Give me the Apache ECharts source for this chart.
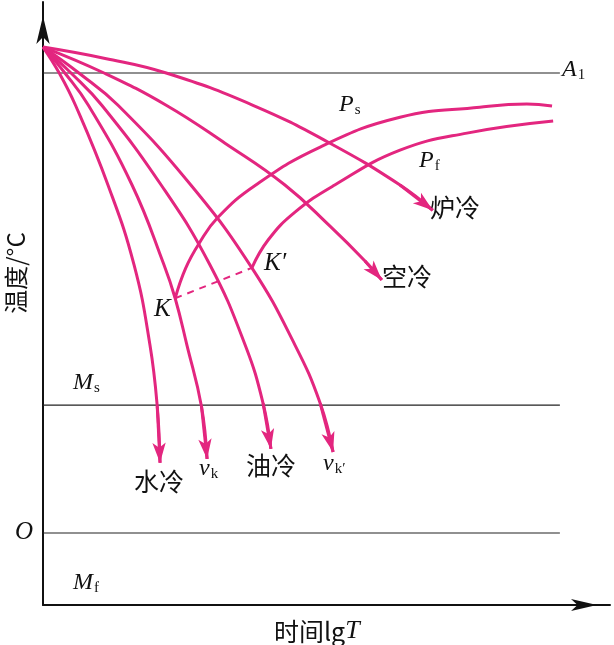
<!DOCTYPE html>
<html>
<head>
<meta charset="utf-8">
<script src="https://cdn.jsdelivr.net/npm/echarts@6/dist/echarts.min.js"></script>
<style>
html,body{margin:0;padding:0;background:#fff;}
#chart{width:614px;height:645px;}
</style>
</head>
<body>
<div id="chart"></div>
<script>
// ---- data (time in relative lg units, temperature in °C) ----
const refLineNames = ['A1', 'Ms', 'O'];
const refLineTemps = [727, 202, 0];
const refLineEnd = 92.3;

const waterCool = [[0,768],[2.9,727],[5.8,676],[11.6,550],[16.25,424],[19.1,297],[20.4,200],[20.9,111]];
const vkCurve   = [[0,768],[3.9,727],[8.1,676],[15.9,550],[21.6,424],[23.6,371],[25.7,297],[28.3,200],[29.3,117]];
const oilCool   = [[0,768],[5.0,727],[10.5,676],[21.1,550],[29.8,424],[36.1,297],[39.3,205],[40.7,133]];
const vk2Curve  = [[0,768],[6.4,727],[13.4,676],[26.4,550],[37.3,419],[45.0,297],[49.5,205],[51.8,128]];
const airCool   = [[0,768],[10.9,727],[22.0,676],[32.5,616],[43.2,550],[51.25,485],[57.5,430],[60.5,400]];
const furnCool  = [[0,768],[11.1,750],[22.0,727],[37.5,676],[51.25,616],[63.75,550],[69.6,510]];
const psCurve   = [[23.6,371],[25.5,419],[27.9,458],[31.25,499],[38.0,550],[49.5,610],[63.75,657],[78.0,673],[86.4,678],[90.9,675]];
const pfCurve   = [[37.3,419],[40.2,463],[45.0,507],[52.1,550],[63.75,605],[75.7,632],[91.1,651]];
const kLine     = [[23.6,371],[37.3,419]];

const PINK = '#E3267F';
const chart = echarts.init(document.getElementById('chart'));

function curve(data, arrow) {
  const s = {
    type: 'line', data: data, smooth: 0.45, symbol: 'none',
    lineStyle: { color: PINK, width: 3 }, z: 5, silent: true
  };
  if (arrow) {
    const n = data.length;
    s.markLine = {
      silent: true, symbol: ['none', 'arrow'], symbolSize: [10, 20],
      lineStyle: { color: PINK, width: 3, type: 'solid' },
      label: { show: false }, animation: false,
      data: [[{ coord: data[n - 2] }, { coord: data[n - 1] }]]
    };
  }
  return s;
}

const series = [];
refLineTemps.forEach(function (t) {
  series.push({
    type: 'line', data: [[0, t], [refLineEnd, t]], symbol: 'none', silent: true,
    lineStyle: { color: '#222', width: 1.2 }, z: 2
  });
});
[waterCool, vkCurve, oilCool, vk2Curve, airCool, furnCool].forEach(function (d) { series.push(curve(d, true)); });
series.push(curve(psCurve, false));
series.push(curve(pfCurve, false));
series.push({
  type: 'line', data: kLine, symbol: 'none', silent: true,
  lineStyle: { color: PINK, width: 2, type: [7, 6] }, z: 5
});

const ser = 'Liberation Serif';
const cjk = 'Noto Sans CJK SC';
function sub(x, y, main, s, size) {
  return {
    type: 'text', left: x, top: y, z: 10,
    style: {
      text: '{a|' + main + '}{b|' + s + '}',
      rich: {
        a: { fontFamily: ser, fontStyle: 'italic', fontSize: size || 24, fill: '#111' },
        b: { fontFamily: ser, fontSize: 15, fill: '#111', padding: [10, 0, 0, 1] }
      }
    }
  };
}
function cn(x, y, t, size) {
  return { type: 'text', left: x, top: y, z: 10,
    style: { text: t, fontFamily: cjk, fontSize: size || 24, fill: '#111' } };
}

chart.setOption({
  animation: false,
  grid: { left: 43, right: 4, top: 2, bottom: 40 },
  xAxis: {
    type: 'value', min: 0, max: 101.25,
    axisLine: { show: true, onZero: false, symbol: ['none', 'arrow'], symbolSize: [9, 26], symbolOffset: [0, -13], lineStyle: { color: '#111', width: 2 } },
    axisTick: { show: false }, axisLabel: { show: false }, splitLine: { show: false }
  },
  yAxis: {
    type: 'value', min: -113.8, max: 839.2,
    axisLine: { show: true, onZero: false, symbol: ['none', 'arrow'], symbolSize: [10, 28], symbolOffset: [0, -14], lineStyle: { color: '#111', width: 2 } },
    axisTick: { show: false }, axisLabel: { show: false }, splitLine: { show: false }
  },
  series: series,
  graphic: [
    sub(562, 58, 'A', '1'),
    sub(73, 371, 'M', 's'),
    sub(73, 571, 'M', 'f'),
    { type: 'text', left: 15, top: 520, z: 10, style: { text: 'O', fontFamily: ser, fontStyle: 'italic', fontSize: 25, fill: '#111' } },
    sub(339, 93, 'P', 's'),
    sub(419, 149, 'P', 'f'),
    { type: 'text', left: 154, top: 297, z: 10, style: { text: 'K', fontFamily: ser, fontStyle: 'italic', fontSize: 25, fill: '#111' } },
    { type: 'text', left: 264, top: 251, z: 10, style: { text: 'K\u2032', fontFamily: ser, fontStyle: 'italic', fontSize: 25, fill: '#111' } },
    cn(430, 195, '炉冷', 25),
    cn(382, 264, '空冷', 25),
    cn(134, 469, '水冷', 25),
    cn(246, 453, '油冷', 25),
    sub(199, 457, 'v', 'k', 24),
    sub(323, 452, 'v', 'k\u2032', 24),
    { type: 'text', left: 274, top: 618, z: 10,
      style: { text: '{c|时间lg}{t|T}', rich: {
        c: { fontFamily: cjk, fontSize: 25, fill: '#111' },
        t: { fontFamily: ser, fontStyle: 'italic', fontSize: 26, fill: '#111' } } } },
    { type: 'text', x: 16, y: 273, rotation: Math.PI / 2, z: 10,
      style: { text: '温度/°C', fontFamily: cjk, fontSize: 24, fill: '#111', align: 'center', verticalAlign: 'middle' } }
  ]
});
</script>
</body>
</html>
